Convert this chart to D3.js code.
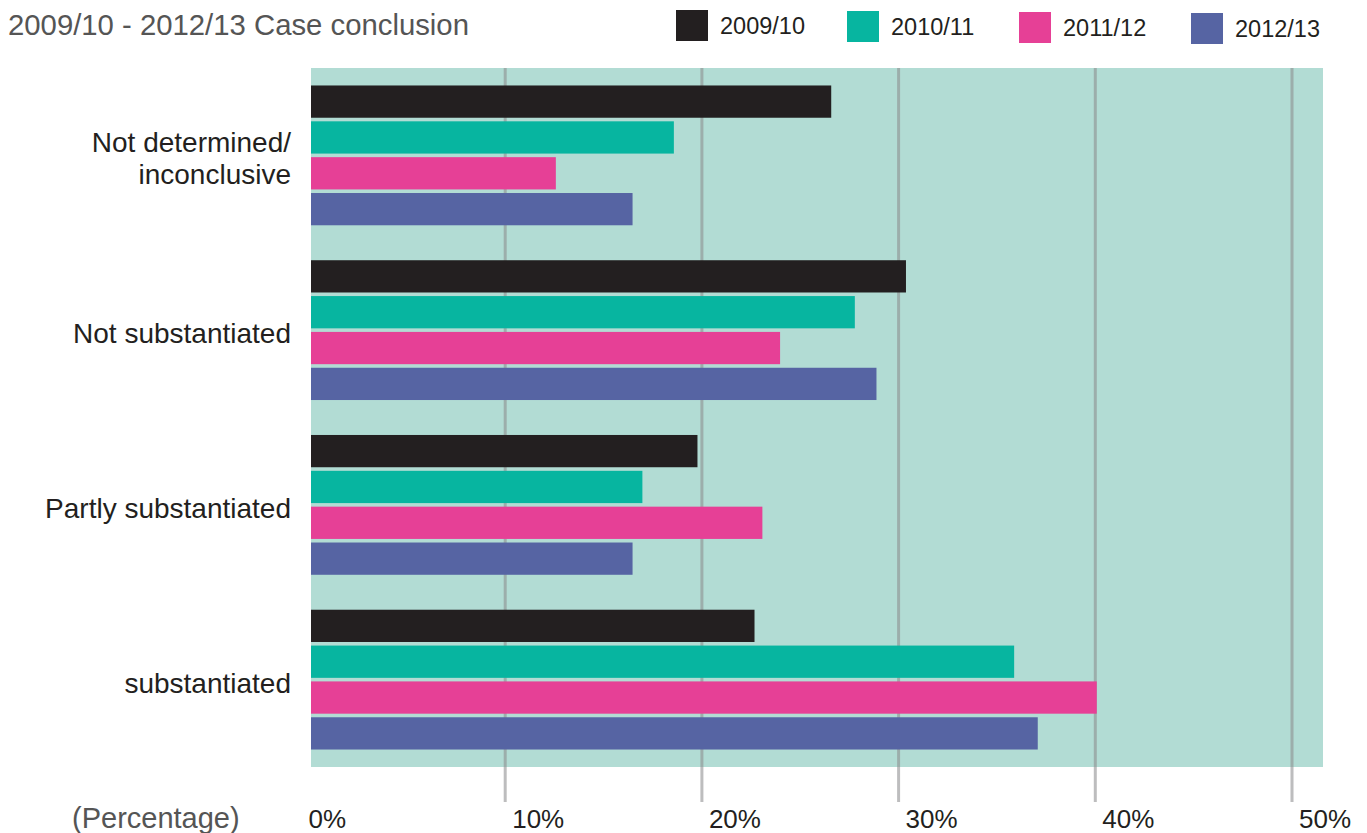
<!DOCTYPE html>
<html>
<head>
<meta charset="utf-8">
<script src="https://cdn.jsdelivr.net/npm/d3@7"></script>
<style>
  html, body { margin: 0; padding: 0; background: #fff; }
  svg { display: block; font-family: "Liberation Sans", Arial, Helvetica, sans-serif; }
</style>
</head>
<body>
<svg id="chart" width="1367" height="833"></svg>
<script>
// Case conclusion shares by year (percent)
const categories = ["Not determined/\ninconclusive", "Not substantiated", "Partly substantiated", "substantiated"];
const years = ["2009/10", "2010/11", "2011/12", "2012/13"];
const values2009 = [26.6, 30.4, 19.8, 22.7];
const values2010 = [18.6, 27.8, 17.0, 35.9];
const values2011 = [12.6, 24.0, 23.1, 40.1];
const values2012 = [16.5, 28.9, 16.5, 37.1];
const tickValues = [0, 10, 20, 30, 40, 50];
const colors = ["#231f20", "#07b5a0", "#e64096", "#5664a3"];

const series = [values2009, values2010, values2011, values2012];

const svg = d3.select("#chart");

const plot = { left: 311, right: 1323, top: 68, bottom: 767 };

const x = d3.scaleLinear().domain([0, 50]).range([308, 1291.5]);
const y = d3.scaleBand().domain(categories).range([plot.top, plot.bottom])
  .paddingInner(0.2).paddingOuter(0.1);
const yInner = d3.scaleBand().domain(years).range([0, y.bandwidth()]).paddingInner(0.1);

svg.append("defs").append("clipPath").attr("id", "plot-clip")
  .append("rect")
  .attr("x", plot.left).attr("y", plot.top)
  .attr("width", plot.right - plot.left).attr("height", plot.bottom - plot.top);

// title
svg.append("text")
  .attr("x", 8).attr("y", 35)
  .attr("fill", "#555")
  .attr("font-size", 29.3)
  .text("2009/10 - 2012/13 Case conclusion");

// legend
const legendX = [676, 847, 1019, 1191];
const legend = svg.append("g").selectAll("g").data(years).join("g")
  .attr("transform", (d, i) => `translate(${legendX[i]},${10 + i})`);
legend.append("rect").attr("width", 32).attr("height", 31).attr("fill", (d, i) => colors[i]);
legend.append("text")
  .attr("x", 44).attr("y", 24)
  .attr("font-size", 23.5)
  .attr("fill", "#231f20")
  .text(d => d);

// plot background
svg.append("rect")
  .attr("x", plot.left).attr("y", plot.top)
  .attr("width", plot.right - plot.left).attr("height", plot.bottom - plot.top)
  .attr("fill", "#b2dcd4");

// x axis: gridlines reaching below the plot, labels to the right of each line
const xAxis = d3.axisBottom(x)
  .tickValues(tickValues)
  .tickSize(802 - plot.top)
  .tickFormat(d => d + "%");
const axisG = svg.append("g")
  .attr("transform", `translate(0,${plot.top})`)
  .call(xAxis);
axisG.select(".domain").remove();
axisG.selectAll(".tick line")
  .attr("stroke", "#8b8b8d")
  .attr("stroke-opacity", d => d === 0 ? 0 : 0.57)
  .attr("stroke-width", 3);
axisG.selectAll(".tick text")
  .attr("y", 828 - plot.top)
  .attr("dy", 0)
  .attr("x", d => d === 0 ? 0 : 7)
  .attr("text-anchor", "start")
  .attr("font-size", 26)
  .attr("font-family", "'Liberation Sans', Arial, Helvetica, sans-serif")
  .attr("fill", "#231f20");

svg.append("text")
  .attr("x", 72).attr("y", 828)
  .attr("fill", "#555")
  .attr("font-size", 29)
  .text("(Percentage)");

// bars
const groups = svg.append("g").attr("clip-path", "url(#plot-clip)")
  .selectAll("g").data(categories).join("g")
  .attr("transform", d => `translate(0,${y(d)})`);
groups.selectAll("rect")
  .data((d, ci) => years.map((yr, si) => ({ yr, si, v: series[si][ci] })))
  .join("rect")
  .attr("x", x(0))
  .attr("y", d => yInner(d.yr))
  .attr("width", d => x(d.v) - x(0))
  .attr("height", yInner.bandwidth())
  .attr("fill", d => colors[d.si]);

// category labels
const labels = svg.append("g").selectAll("text").data(categories).join("text")
  .attr("text-anchor", "end")
  .attr("font-size", 28)
  .attr("fill", "#231f20")
  .attr("transform", d => `translate(291,${y(d) + y.bandwidth() / 2})`);
labels.each(function (d) {
  const lines = d.split("\n");
  const t = d3.select(this);
  lines.forEach((line, i) => {
    t.append("tspan")
      .attr("x", 0)
      .attr("y", (i - (lines.length - 1) / 2) * 32 + 13)
      .text(line);
  });
});
</script>
</body>
</html>
